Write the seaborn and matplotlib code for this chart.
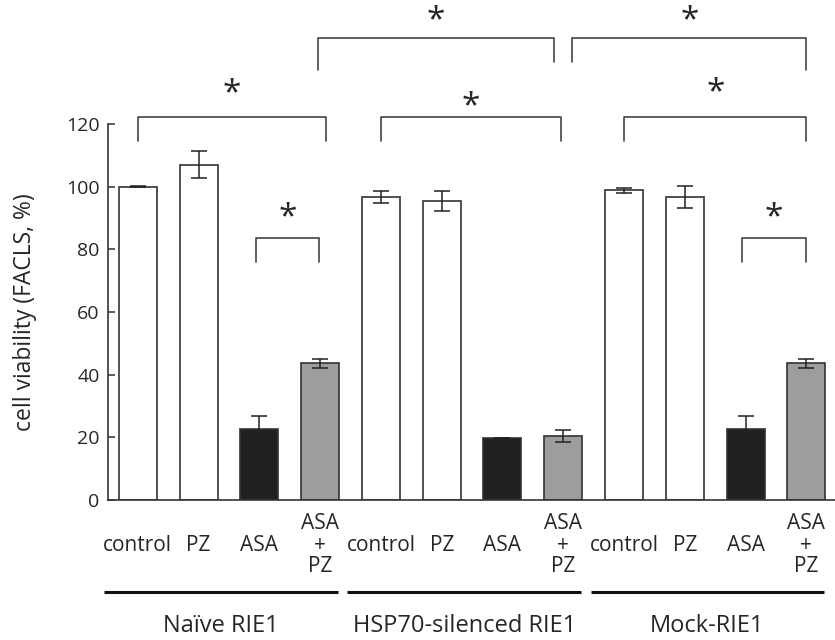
import pandas as pd
import seaborn as sns
import matplotlib.pyplot as plt
import matplotlib.transforms as mtransforms

groups = ["Naïve RIE1", "HSP70-silenced RIE1", "Mock-RIE1"]
treatments = ["control", "PZ", "ASA", "ASA\n+\nPZ"]
viability = [100.0, 107.0, 22.6, 43.6,
             96.7, 95.4, 19.8, 20.4,
             98.9, 96.7, 22.6, 43.6]
sem = [0.2, 4.3, 4.3, 1.5,
       1.8, 3.3, 0.0, 1.9,
       0.8, 3.6, 4.3, 1.5]
treatment_colors = ["#ffffff", "#ffffff", "#231f20", "#9c9da1"]

# significance brackets: (left bar, right bar, bar height, left leg end, right leg end, star height)
brackets = [
    (0, 3.09, 122.3, 114.7, 114.7, 129.5),
    (4, 6.97, 122.3, 114.7, 114.7, 125.5),
    (8, 11, 122.3, 114.7, 114.7, 130.0),
    (1.94, 2.98, 83.7, 76.1, 76.1, 90.0),
    (9.94, 11, 83.7, 76.1, 76.1, 90.0),
    (2.97, 6.84, 147.4, 137.2, 139.9, 152.8),
    (7.15, 11, 147.4, 139.9, 137.2, 152.8),
]

ids = [f"{g}|{t}" for g in groups for t in treatments]
df = pd.DataFrame({
    "id": ids,
    "treatment": treatments * len(groups),
    "viability": viability,
})

sns.set_style("ticks")
plt.rcParams["font.family"] = ["Open Sans", "DejaVu Sans"]

fig = plt.figure(figsize=(8.35, 6.4), dpi=100)
ax = fig.add_axes([0.1293, 0.21875, 0.8707, 0.5875])

sns.barplot(data=df, x="id", y="viability", hue="treatment",
            palette=treatment_colors, hue_order=treatments,
            width=0.625, dodge=False, legend=False, errorbar=None,
            edgecolor="#333333", linewidth=1.2, ax=ax)
ax.errorbar(range(len(viability)), viability, yerr=sem, fmt="none",
            ecolor="#222222", elinewidth=1.1, capsize=6, capthick=1.1)

ax.set_ylim(0, 120)
ax.set_xlim(-0.49, 11.47)
ax.set_yticks(range(0, 121, 20))
ax.tick_params(axis="y", labelsize=14, direction="in", length=5, width=1.1,
               pad=6, color="#333333")
ax.set_xticks(range(len(ids)))
ax.set_xticklabels(treatments * len(groups), fontsize=15, va="center",
                   linespacing=1.05)
ax.tick_params(axis="x", length=0, pad=32.5)
ax.set_xlabel("")
ax.set_ylabel("cell viability (FACLS, %)", fontsize=16.5)
ax.yaxis.set_label_coords(-0.097, 0.5)
sns.despine(ax=ax)
for s in ("left", "bottom"):
    ax.spines[s].set_color("#333333")
    ax.spines[s].set_linewidth(1.2)

for x0, x1, h, l0, l1, star in brackets:
    ax.plot([x0, x0, x1, x1], [l0, h, h, l1], color="#444444", lw=1.2,
            clip_on=False)
    ax.text((x0 + x1) / 2, star, "*", ha="center", va="center",
            fontsize=24, clip_on=False)

trans = mtransforms.blended_transform_factory(ax.transData, ax.transAxes)
for k, g in enumerate(groups):
    left = 4 * k - 0.55
    right = 4 * k + 3.29
    ax.plot([left, right], [-0.245, -0.245], color="#111111", lw=2.2,
            transform=trans, clip_on=False, solid_capstyle="butt")
    ax.text((left + right) / 2, -0.335, g, transform=trans,
            ha="center", va="center", fontsize=17)

fig.savefig("out.png", dpi=100)
